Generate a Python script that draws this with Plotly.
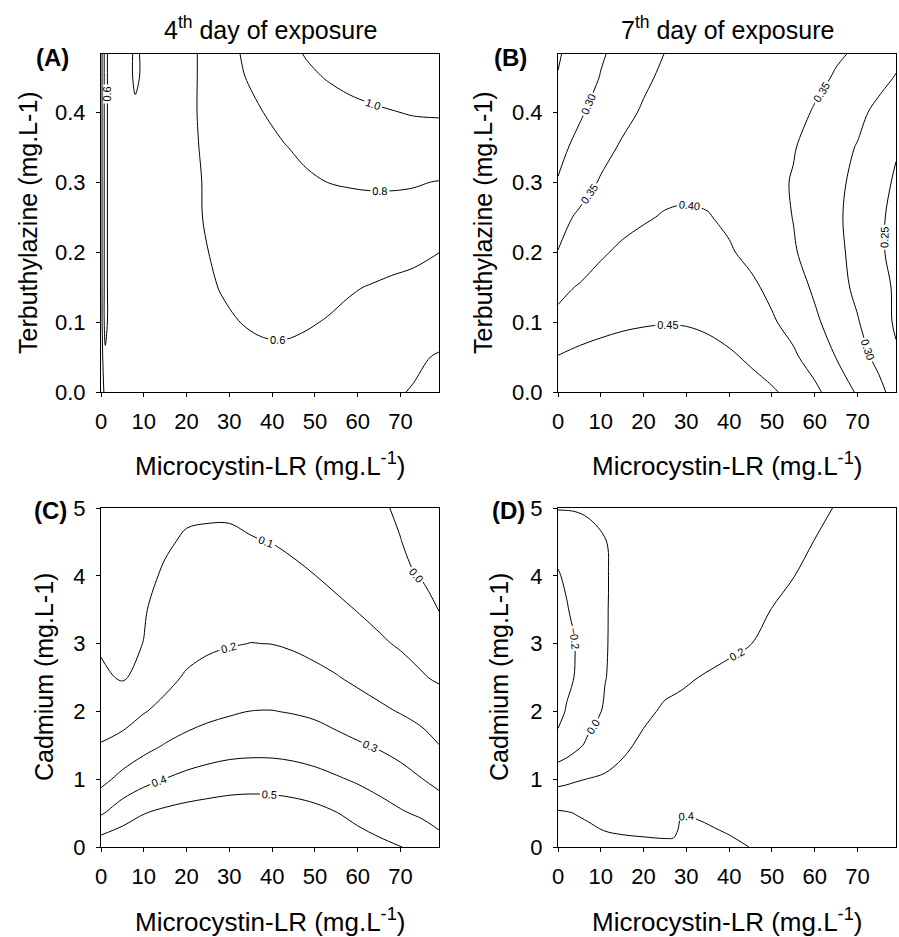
import plotly.graph_objects as go

W, H = 899, 937
FONT = "Liberation Sans, Arial, sans-serif"

# ---------------- Panel A : 4th day, Microcystin-LR x Terbuthylazine ----------------
mc_A = [0, 1, 2, 5, 8, 13, 18, 23, 28, 33, 38, 43, 48, 53, 58, 63, 68, 73, 79]
tb_A = [0, 0.05, 0.1, 0.15, 0.2, 0.25, 0.3, 0.35, 0.4, 0.45, 0.483]
resp_A = [
    [0.3, 0.45, 0.45, 0.45, 0.45, 0.46, 0.48, 0.50, 0.52, 0.54, 0.55, 0.55, 0.54, 0.52, 0.49, 0.46, 0.42, 0.39, 0.35],
    [0.3, 0.55, 0.50, 0.47, 0.47, 0.48, 0.50, 0.53, 0.555, 0.575, 0.585, 0.585, 0.575, 0.56, 0.53, 0.50, 0.46, 0.43, 0.385],
    [0.3, 0.70, 0.50, 0.48, 0.48, 0.49, 0.52, 0.55, 0.58, 0.602, 0.612, 0.615, 0.608, 0.595, 0.575, 0.555, 0.53, 0.51, 0.49],
    [0.3, 0.70, 0.50, 0.50, 0.50, 0.51, 0.54, 0.57, 0.605, 0.625, 0.635, 0.64, 0.635, 0.625, 0.61, 0.595, 0.58, 0.57, 0.56],
    [0.3, 0.70, 0.50, 0.50, 0.51, 0.52, 0.55, 0.585, 0.62, 0.645, 0.66, 0.67, 0.675, 0.675, 0.67, 0.655, 0.64, 0.625, 0.601],
    [0.3, 0.70, 0.50, 0.50, 0.51, 0.52, 0.55, 0.595, 0.63, 0.66, 0.69, 0.71, 0.73, 0.74, 0.75, 0.755, 0.755, 0.75, 0.74],
    [0.3, 0.70, 0.50, 0.50, 0.51, 0.52, 0.56, 0.595, 0.64, 0.69, 0.73, 0.76, 0.78, 0.801, 0.81, 0.815, 0.815, 0.81, 0.795],
    [0.3, 0.70, 0.50, 0.50, 0.52, 0.52, 0.56, 0.601, 0.66, 0.72, 0.76, 0.795, 0.83, 0.86, 0.88, 0.90, 0.91, 0.92, 0.925],
    [0.3, 0.70, 0.50, 0.50, 0.58, 0.52, 0.56, 0.605, 0.68, 0.75, 0.801, 0.85, 0.89, 0.93, 0.96, 0.98, 0.995, 1.01, 1.015],
    [0.3, 0.70, 0.50, 0.52, 0.62, 0.52, 0.555, 0.605, 0.70, 0.79, 0.86, 0.92, 0.97, 1.01, 1.04, 1.06, 1.08, 1.09, 1.10],
    [0.3, 0.70, 0.50, 0.52, 0.62, 0.52, 0.555, 0.605, 0.71, 0.81, 0.88, 0.95, 1.01, 1.05, 1.08, 1.10, 1.12, 1.13, 1.14],
]

# ---------------- Panel B : 7th day, Microcystin-LR x Terbuthylazine ----------------
mc_B = [0, 5, 10, 15, 20, 25, 30, 35, 40, 45, 50, 55, 60, 65, 70, 75, 79]
tb_B = [0, 0.05, 0.1, 0.15, 0.2, 0.25, 0.3, 0.35, 0.4, 0.45, 0.483]
resp_B = [
    [0.48, 0.487, 0.49, 0.492, 0.492, 0.49, 0.486, 0.48, 0.472, 0.465, 0.455, 0.438, 0.41, 0.378, 0.345, 0.31, 0.285],
    [0.452, 0.462, 0.468, 0.472, 0.474, 0.474, 0.471, 0.465, 0.456, 0.444, 0.428, 0.407, 0.38, 0.349, 0.315, 0.29, 0.256],
    [0.41, 0.425, 0.435, 0.442, 0.446, 0.448, 0.447, 0.442, 0.433, 0.42, 0.405, 0.385, 0.358, 0.33, 0.303, 0.27, 0.244],
    [0.39, 0.403, 0.415, 0.425, 0.43, 0.434, 0.434, 0.43, 0.42, 0.408, 0.39, 0.37, 0.343, 0.317, 0.29, 0.262, 0.245],
    [0.351, 0.375, 0.395, 0.407, 0.414, 0.418, 0.418, 0.413, 0.404, 0.39, 0.373, 0.354, 0.333, 0.31, 0.287, 0.258, 0.235],
    [0.335, 0.357, 0.375, 0.387, 0.396, 0.403, 0.405, 0.402, 0.393, 0.38, 0.366, 0.349, 0.33, 0.306, 0.287, 0.256, 0.24],
    [0.302, 0.33, 0.354, 0.37, 0.38, 0.388, 0.391, 0.39, 0.385, 0.375, 0.362, 0.347, 0.327, 0.309, 0.29, 0.268, 0.243],
    [0.29, 0.31, 0.335, 0.355, 0.367, 0.376, 0.382, 0.385, 0.385, 0.38, 0.37, 0.353, 0.333, 0.313, 0.298, 0.28, 0.255],
    [0.26, 0.295, 0.315, 0.337, 0.355, 0.367, 0.376, 0.381, 0.382, 0.38, 0.373, 0.362, 0.347, 0.328, 0.31, 0.29, 0.275],
    [0.252, 0.275, 0.302, 0.322, 0.342, 0.358, 0.37, 0.377, 0.38, 0.38, 0.377, 0.369, 0.359, 0.347, 0.33, 0.312, 0.298],
    [0.245, 0.275, 0.295, 0.315, 0.33, 0.351, 0.365, 0.372, 0.375, 0.375, 0.372, 0.366, 0.36, 0.354, 0.346, 0.33, 0.31],
]

# ---------------- Panel C : 4th day, Microcystin-LR x Cadmium ----------------
mc_C = [0, 5, 10, 15, 20, 25, 30, 35, 40, 45, 50, 55, 60, 65, 70, 75, 79]
cd_C = [0, 0.5, 1, 1.5, 2, 2.5, 3, 3.5, 4, 4.5, 5]
resp_C = [
    [0.56, 0.58, 0.595, 0.605, 0.615, 0.62, 0.625, 0.625, 0.62, 0.61, 0.595, 0.575, 0.55, 0.525, 0.502, 0.475, 0.44],
    [0.39, 0.45, 0.497, 0.52, 0.535, 0.545, 0.55, 0.552, 0.55, 0.543, 0.528, 0.503, 0.47, 0.44, 0.41, 0.385, 0.36],
    [0.27, 0.33, 0.37, 0.402, 0.425, 0.44, 0.455, 0.46, 0.458, 0.448, 0.432, 0.41, 0.388, 0.362, 0.335, 0.302, 0.27],
    [0.203, 0.222, 0.27, 0.305, 0.33, 0.35, 0.36, 0.365, 0.365, 0.358, 0.345, 0.328, 0.31, 0.29, 0.265, 0.235, 0.201],
    [0.17, 0.17, 0.195, 0.225, 0.255, 0.275, 0.29, 0.301, 0.302, 0.295, 0.285, 0.265, 0.24, 0.217, 0.195, 0.17, 0.15],
    [0.115, 0.092, 0.125, 0.175, 0.21, 0.23, 0.24, 0.245, 0.245, 0.235, 0.222, 0.205, 0.182, 0.16, 0.138, 0.107, 0.088],
    [0.09, 0.085, 0.101, 0.14, 0.168, 0.185, 0.195, 0.201, 0.199, 0.19, 0.175, 0.155, 0.135, 0.113, 0.09, 0.07, 0.06],
    [0.07, 0.07, 0.095, 0.125, 0.145, 0.158, 0.165, 0.167, 0.163, 0.152, 0.135, 0.118, 0.097, 0.075, 0.055, 0.03, -0.003],
    [0.05, 0.055, 0.08, 0.11, 0.128, 0.138, 0.142, 0.142, 0.135, 0.12, 0.101, 0.08, 0.058, 0.035, 0.013, -0.005, -0.02],
    [0.035, 0.04, 0.06, 0.09, 0.11, 0.118, 0.118, 0.105, 0.098, 0.082, 0.063, 0.045, 0.03, 0.015, 0.001, -0.015, -0.028],
    [0.02, 0.03, 0.045, 0.065, 0.085, 0.085, 0.085, 0.08, 0.075, 0.062, 0.045, 0.03, 0.018, 0.006, -0.006, -0.02, -0.035],
]

# ---------------- Panel D : 7th day, Microcystin-LR x Cadmium ----------------
mc_D = [0, 2, 4, 7, 11, 15, 20, 25, 27, 29, 33, 40, 45, 50, 55, 60, 65, 70, 75, 79]
cd_D = [0, 0.25, 0.5, 0.75, 1, 1.5, 2, 2.5, 3, 3.5, 4, 4.5, 5]
resp_D = [
    [0.55, 0.54, 0.52, 0.49, 0.46, 0.44, 0.43, 0.43, 0.435, 0.44, 0.44, 0.425, 0.398, 0.385, 0.375, 0.37, 0.365, 0.362, 0.36, 0.36],
    [0.5, 0.48, 0.46, 0.43, 0.395, 0.385, 0.38, 0.37, 0.37, 0.43, 0.42, 0.39, 0.375, 0.365, 0.36, 0.358, 0.356, 0.355, 0.355, 0.355],
    [0.43, 0.415, 0.395, 0.37, 0.35, 0.34, 0.335, 0.335, 0.33, 0.395, 0.385, 0.37, 0.36, 0.355, 0.352, 0.35, 0.35, 0.35, 0.35, 0.35],
    [0.25, 0.26, 0.27, 0.28, 0.29, 0.30, 0.31, 0.315, 0.318, 0.32, 0.322, 0.325, 0.328, 0.33, 0.332, 0.334, 0.335, 0.336, 0.338, 0.34],
    [0.16, 0.17, 0.185, 0.203, 0.22, 0.245, 0.27, 0.285, 0.288, 0.29, 0.295, 0.30, 0.305, 0.31, 0.315, 0.318, 0.32, 0.322, 0.325, 0.327],
    [-0.16, -0.10, -0.045, 0.03, 0.11, 0.17, 0.23, 0.26, 0.265, 0.27, 0.278, 0.288, 0.294, 0.30, 0.305, 0.308, 0.31, 0.312, 0.315, 0.317],
    [-0.24, -0.19, -0.15, -0.07, 0.02, 0.09, 0.17, 0.22, 0.228, 0.235, 0.245, 0.255, 0.262, 0.268, 0.272, 0.276, 0.28, 0.283, 0.286, 0.29],
    [-0.26, -0.23, -0.195, -0.11, -0.005, 0.06, 0.12, 0.16, 0.17, 0.18, 0.201, 0.215, 0.225, 0.232, 0.24, 0.245, 0.25, 0.255, 0.26, 0.263],
    [-0.27, -0.235, -0.202, -0.12, -0.01, 0.05, 0.10, 0.13, 0.14, 0.15, 0.165, 0.188, 0.199, 0.215, 0.225, 0.233, 0.24, 0.245, 0.25, 0.255],
    [-0.25, -0.21, -0.17, -0.10, -0.01, 0.045, 0.085, 0.115, 0.123, 0.13, 0.142, 0.165, 0.183, 0.201, 0.215, 0.225, 0.232, 0.24, 0.245, 0.25],
    [-0.21, -0.18, -0.14, -0.08, -0.01, 0.04, 0.075, 0.10, 0.108, 0.115, 0.128, 0.15, 0.168, 0.185, 0.199, 0.212, 0.222, 0.23, 0.238, 0.243],
    [-0.16, -0.13, -0.10, -0.05, -0.005, 0.04, 0.07, 0.09, 0.098, 0.105, 0.115, 0.135, 0.152, 0.168, 0.185, 0.201, 0.212, 0.222, 0.23, 0.236],
    [0.01, 0.01, 0.012, 0.02, 0.04, 0.06, 0.08, 0.10, 0.105, 0.11, 0.12, 0.14, 0.155, 0.17, 0.18, 0.19, 0.202, 0.212, 0.22, 0.228],
]

# contour levels (start, end, step)
levels_A = (0.4, 1.0, 0.2)
levels_B = (0.25, 0.45, 0.05)
levels_C = (0.0, 0.5, 0.1)
levels_D = (-0.2, 0.4, 0.2)

x_ticks = [0, 10, 20, 30, 40, 50, 60, 70]
terb_ticks = [0.0, 0.1, 0.2, 0.3, 0.4]
cd_ticks = [0, 1, 2, 3, 4, 5]

titles = ["4<sup>th</sup> day of exposure", "7<sup>th</sup> day of exposure"]
panel_labels = ["(A)", "(B)", "(C)", "(D)"]
xtitle = "Microcystin-LR (mg.L<sup>-1</sup>)"
ytitle_top = "Terbuthylazine (mg.L-1)"
ytitle_bot = "Cadmium (mg.L-1)"

# ---------------- layout geometry (pixels) ----------------
cols_px = [(101, 439), (558, 896)]
rows_px = [(54, 392), (508, 847)]


def xdom(c):
    return [c[0] / W, c[1] / W]


def ydom(r):
    return [1 - r[1] / H, 1 - r[0] / H]


fig = go.Figure()

panels = [
    (mc_A, tb_A, resp_A, levels_A, ".1f"),
    (mc_B, tb_B, resp_B, levels_B, ".2f"),
    (mc_C, cd_C, resp_C, levels_C, ".1f"),
    (mc_D, cd_D, resp_D, levels_D, ".1f"),
]

for i, (xs, ys, zs, lv, fmt) in enumerate(panels):
    suffix = "" if i == 0 else str(i + 1)
    fig.add_trace(go.Contour(
        x=xs, y=ys, z=zs,
        xaxis="x" + suffix, yaxis="y" + suffix,
        autocontour=False,
        contours=dict(start=lv[0], end=lv[1] + lv[2] * 0.01, size=lv[2],
                      coloring="lines", showlabels=True,
                      labelfont=dict(size=11, color="black", family=FONT),
                      labelformat=fmt),
        line=dict(width=1, smoothing=1),
        colorscale=[[0, "black"], [1, "black"]],
        showscale=False,
        hoverinfo="skip",
    ))

axis_common = dict(showline=True, linecolor="black", linewidth=1, mirror=True,
                   ticks="outside", ticklen=4, tickcolor="black", tickwidth=1,
                   showgrid=False, zeroline=False, automargin=False,
                   tickfont=dict(size=22, color="black", family=FONT))

layout = dict(width=W, height=H, autosize=False,
              margin=dict(l=0, r=0, t=0, b=0, pad=0, autoexpand=False),
              paper_bgcolor="white", plot_bgcolor="white", showlegend=False,
              font=dict(family=FONT, color="black"))

for i in range(4):
    r, c = divmod(i, 2)
    suffix = "" if i == 0 else str(i + 1)
    xa = dict(axis_common, domain=xdom(cols_px[c]), anchor="y" + suffix,
              range=[0, 79], tickvals=x_ticks, ticklabelstandoff=6)
    if r == 0:
        ya = dict(axis_common, domain=ydom(rows_px[r]), anchor="x" + suffix,
                  range=[0, 0.483], tickvals=terb_ticks, tickformat=".1f",
                  ticklabelstandoff=6)
    else:
        ya = dict(axis_common, domain=ydom(rows_px[r]), anchor="x" + suffix,
                  range=[0, 5], tickvals=cd_ticks, ticklabelstandoff=6)
    layout["xaxis" + suffix] = xa
    layout["yaxis" + suffix] = ya

fig.update_layout(**layout)

ann = []
for c, t in enumerate(titles):
    cx = (cols_px[c][0] + cols_px[c][1]) / 2
    ann.append(dict(text=t, x=cx / W, y=1 - 28 / H, xref="paper", yref="paper",
                    showarrow=False, xanchor="center", yanchor="middle",
                    font=dict(size=25, family=FONT, color="black")))
lab_pos = [(52, 57), (510, 57), (50, 510), (508, 510)]
for t, (px, py) in zip(panel_labels, lab_pos):
    ann.append(dict(text="<b>" + t + "</b>", x=px / W, y=1 - py / H, xref="paper", yref="paper",
                    showarrow=False, xanchor="center", yanchor="middle",
                    font=dict(size=24, family=FONT, color="black")))
for py in [464, 920]:
    for c in range(2):
        cx = (cols_px[c][0] + cols_px[c][1]) / 2
        ann.append(dict(text=xtitle, x=cx / W, y=1 - py / H, xref="paper", yref="paper",
                        showarrow=False, xanchor="center", yanchor="middle",
                        font=dict(size=26, family=FONT, color="black")))
ypos = [(28, 223, ytitle_top), (483, 223, ytitle_top), (44, 677, ytitle_bot), (499, 677, ytitle_bot)]
for px, py, t in ypos:
    ann.append(dict(text=t, x=px / W, y=1 - py / H, xref="paper", yref="paper",
                    showarrow=False, xanchor="center", yanchor="middle", textangle=-90,
                    font=dict(size=25, family=FONT, color="black")))

fig.update_layout(annotations=ann)
fig.write_html("out.html", config={"displayModeBar": False},
               post_script="document.body.style.margin='0';document.body.style.padding='0';"
                           "document.body.style.overflow='hidden';")
